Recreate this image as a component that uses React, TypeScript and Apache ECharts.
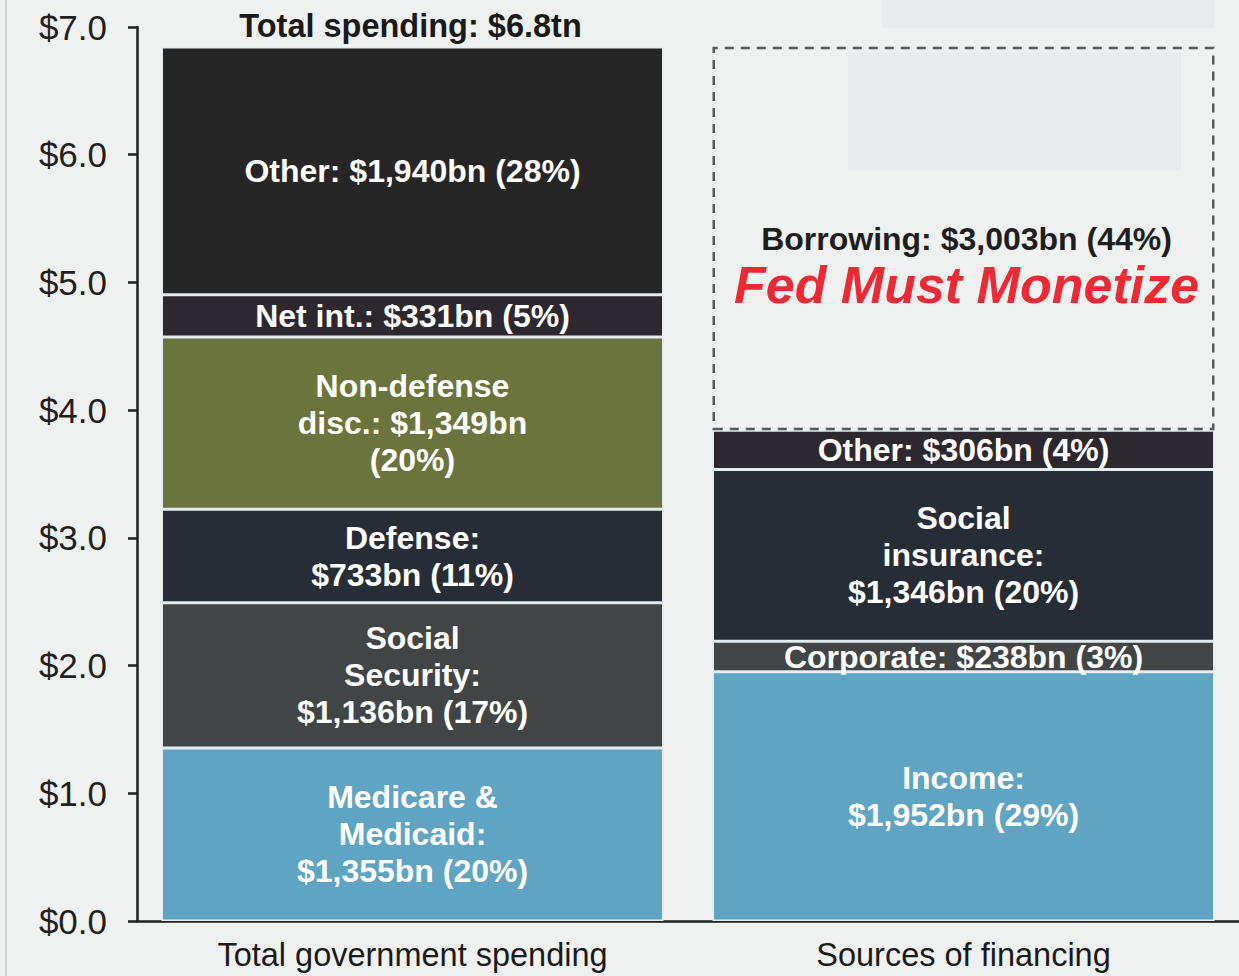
import React, { useEffect, useRef } from "react";
import * as echarts from "echarts";

const categories = ["Total government spending", "Sources of financing"];

const spendingNames = ["Medicare & Medicaid", "Social Security", "Defense", "Non-defense disc.", "Net int.", "Other"];
const spendingValues = [1355, 1136, 733, 1349, 331, 1940];
const spendingLabels = [
  "Medicare &\nMedicaid:\n$1,355bn (20%)",
  "Social\nSecurity:\n$1,136bn (17%)",
  "Defense:\n$733bn (11%)",
  "Non-defense\ndisc.: $1,349bn\n(20%)",
  "Net int.: $331bn (5%)",
  "Other: $1,940bn (28%)",
];
const spendingColors = ["#5fa4c2", "#414546", "#272d36", "#6b743c", "#2d272f", "#262626"];

const financingNames = ["Income", "Corporate", "Social insurance", "Other", "Borrowing"];
const financingValues = [1952, 238, 1346, 306, 3003];
const financingLabels = [
  "Income:\n$1,952bn (29%)",
  "Corporate: $238bn (3%)",
  "Social\ninsurance:\n$1,346bn (20%)",
  "Other: $306bn (4%)",
  "{a|Borrowing: $3,003bn (44%)}\n{b|Fed Must Monetize}",
];
const financingColors = ["#5fa4c2", "#414546", "#272d36", "#2d272f", "transparent"];

const totalLabel = "Total spending: $6.8tn";
const yTicks = { min: 0, max: 7, interval: 1 };

const FONT = "'Liberation Sans', Arial, sans-serif";

export default function App() {
  const ref = useRef<HTMLDivElement>(null);
  useEffect(() => {
    if (!ref.current) return;
    const chart = echarts.init(ref.current, null, { renderer: "svg" });
    const baseLabel = {
      show: true,
      position: "inside",
      color: "#ffffff",
      fontFamily: FONT,
      fontWeight: "bold",
      fontSize: 32,
      lineHeight: 37,
      align: "center",
    };
    const sepBorder = { borderColor: "#e4ecef", borderWidth: 1.5 };
    const series: any[] = [];
    spendingValues.forEach((v, i) => {
      series.push({
        type: "bar",
        name: spendingNames[i],
        stack: "total",
        barWidth: 502,
        data: [v / 1000, "-"],
        itemStyle: { color: spendingColors[i], ...sepBorder },
        label: { ...baseLabel, formatter: spendingLabels[i] },
      });
    });
    financingValues.forEach((v, i) => {
      const isBorrow = i === financingValues.length - 1;
      series.push({
        type: "bar",
        name: financingNames[i],
        stack: "total",
        barWidth: 502,
        data: ["-", v / 1000],
        itemStyle: isBorrow
          ? { color: "rgba(0,0,0,0)", borderColor: "#555a5c", borderWidth: 2.5, borderType: [9, 7] }
          : { color: financingColors[i], ...sepBorder },
        label: isBorrow
          ? {
              show: true,
              position: "inside",
              formatter: financingLabels[i],
              offset: [3, 26],
              rich: {
                a: { fontFamily: FONT, fontWeight: "bold", fontSize: 32, lineHeight: 40, color: "#1e1e1e", align: "center" },
                b: { fontFamily: FONT, fontWeight: "bold", fontStyle: "italic", fontSize: 52, lineHeight: 52, color: "#ec2a35", align: "center" },
              },
            }
          : { ...baseLabel, formatter: financingLabels[i] },
      });
    });

    const option: any = {
      animation: false,
      backgroundColor: "#eff1f1",
      grid: { left: 137, right: -2, top: 27, bottom: 55, containLabel: false },
      xAxis: {
        type: "category",
        data: categories,
        axisLine: { show: true, lineStyle: { color: "#1f1f1f", width: 2.5 } },
        axisTick: { show: false },
        axisLabel: { color: "#1a1a1a", fontFamily: FONT, fontSize: 32.5, margin: 17 },
      },
      yAxis: {
        type: "value",
        min: yTicks.min,
        max: yTicks.max,
        interval: yTicks.interval,
        axisLine: { show: true, lineStyle: { color: "#1f1f1f", width: 2.5 } },
        axisTick: { show: true, length: 9, lineStyle: { color: "#1f1f1f", width: 2.5 } },
        splitLine: { show: false },
        axisLabel: {
          color: "#1f1f1f",
          fontFamily: FONT,
          fontSize: 35,
          margin: 30,
          formatter: (v: number) => "$" + v.toFixed(1),
        },
      },
      series,
    };
    chart.setOption(option);
    const p = chart.convertToPixel({ gridIndex: 0 }, [categories[0], yTicks.max]) as number[];
    chart.setOption({
      graphic: [
        { type: "line", shape: { x1: 6, y1: 0, x2: 6, y2: 976 }, style: { stroke: "#c9cccc", lineWidth: 1.5 }, z: -1 },
        { type: "rect", shape: { x: 882, y: 0, width: 333, height: 28 }, style: { fill: "#e7ebee" }, z: -1 },
        { type: "rect", shape: { x: 848, y: 52, width: 333, height: 118 }, style: { fill: "#e7ebee" }, z: -1 },
        {
          type: "text",
          x: p[0] - 2,
          y: p[1] - 1,
          style: {
            text: totalLabel,
            fill: "#1a1a1a",
            font: `bold 32.5px ${FONT}`,
            textAlign: "center",
            textVerticalAlign: "middle",
          },
          z: 10,
        },
      ],
    });
    return () => chart.dispose();
  }, []);
  return <div ref={ref} style={{ position: "fixed", left: 0, top: 0, width: 1239, height: 976 }} />;
}
